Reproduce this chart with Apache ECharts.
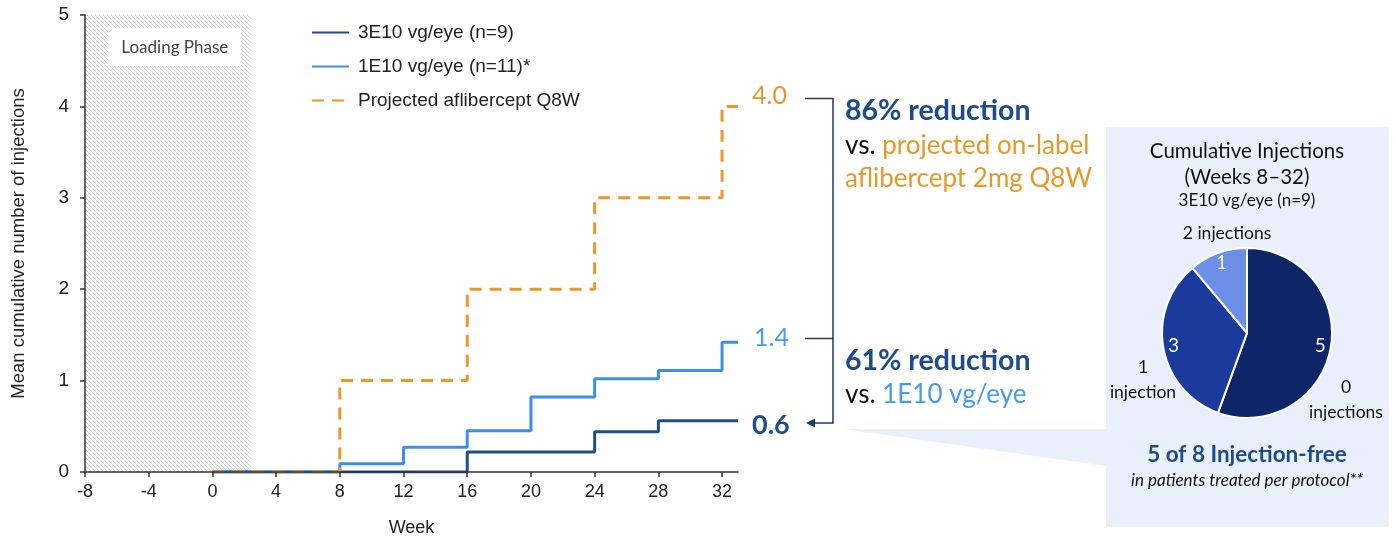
<!DOCTYPE html>
<html>
<head>
<meta charset="utf-8">
<script src="https://cdn.jsdelivr.net/npm/echarts@6/dist/echarts.min.js"></script>
<style>
  html, body { margin: 0; padding: 0; background: #fff; }
  #chart { width: 1396px; height: 540px; }
</style>
</head>
<body>
<div id="chart"></div>
<script>
// Cumulative injections by week (step data: value holds until the next week listed)
const weeks3E10 = [0, 16, 24, 28, 33];
const values3E10 = [0, 0.22, 0.44, 0.56, 0.56];
const weeks1E10 = [0, 8, 12, 16, 20, 24, 28, 32, 33];
const values1E10 = [0, 0.09, 0.27, 0.45, 0.82, 1.02, 1.11, 1.42, 1.42];
const weeksQ8W = [0, 8, 16, 24, 32, 33];
const valuesQ8W = [0, 1, 2, 3, 4, 4];

const seriesNames = ['3E10 vg/eye (n=9)', '1E10 vg/eye (n=11)*', 'Projected aflibercept Q8W'];
const xTicks = [-8, -4, 0, 4, 8, 12, 16, 20, 24, 28, 32];
const loadingPhase = [-8, 2.4];

// Injection distribution, 3E10 vg/eye, weeks 8-32
const pieLabels = ['0\ninjections', '1\ninjection', '2 injections'];
const pieCounts = [5, 3, 1];

const C_DARK = '#1F4E8C';
const C_LIGHT = '#3C8FE6';
const C_ORANGE = '#E8992A';
const GILL = "Lato, 'Open Sans', sans-serif";
const ARIAL = "'Liberation Sans', Arial, sans-serif";
const NARROW = "'Liberation Sans Narrow', 'Liberation Sans', Arial, sans-serif";

function zip(xs, ys) { return xs.map((x, i) => [x, ys[i]]); }

// Diagonal hatch for the loading phase
const hatch = document.createElement('canvas');
hatch.width = 4; hatch.height = 4;
(function () {
  const g = hatch.getContext('2d');
  g.fillStyle = '#fafafa';
  g.fillRect(0, 0, 4, 4);
  g.strokeStyle = '#d2d2d2';
  g.lineWidth = 1;
  g.beginPath();
  g.moveTo(-1, -1); g.lineTo(5, 5);
  g.stroke();
})();

const chart = echarts.init(document.getElementById('chart'));

const endLabelBase = { show: true, fontFamily: GILL, distance: 14, formatter: p => p.value[1].toFixed(1) };

chart.setOption({
  animation: false,
  backgroundColor: '#fff',
  grid: { left: 85, right: 658, top: 15, bottom: 68, outerBoundsMode: 'none', containLabel: false },
  legend: {
    data: seriesNames,
    orient: 'vertical',
    left: 306,
    top: 17,
    itemWidth: 37,
    itemHeight: 14,
    itemGap: 13,
    itemStyle: { opacity: 0 },
    textStyle: { fontFamily: ARIAL, fontSize: 19, color: '#222', padding: [0, 0, 0, 4], lineHeight: 21 }
  },
  xAxis: {
    type: 'value', min: -8, max: 33, interval: 4, z: 10,
    name: 'Week', nameLocation: 'middle', nameGap: 47,
    nameTextStyle: { fontFamily: NARROW, fontSize: 18, color: '#222' },
    axisLine: { onZero: false, lineStyle: { color: '#333', width: 1.5 } },
    axisTick: { show: true, length: 5, customValues: xTicks, lineStyle: { color: '#333', width: 1.5 } },
    axisLabel: { customValues: xTicks, margin: 11, fontFamily: NARROW, fontSize: 18, color: '#222' },
    splitLine: { show: false }
  },
  yAxis: {
    type: 'value', min: 0, max: 5, interval: 1, z: 10,
    name: 'Mean cumulative number of injections', nameLocation: 'middle', nameGap: 57,
    nameTextStyle: { fontFamily: ARIAL, fontSize: 18.5, color: '#222' },
    axisLine: { show: true, onZero: false, lineStyle: { color: '#333', width: 1.5 } },
    axisTick: { show: true, length: 5, lineStyle: { color: '#333', width: 1.5 } },
    axisLabel: { margin: 16, fontFamily: NARROW, fontSize: 19, color: '#222' },
    splitLine: { show: false }
  },
  series: [
    // loading phase band (area only, no line data)
    {
      type: 'line', data: [], silent: true, z: 1,
      markArea: {
        silent: true,
        itemStyle: { color: { image: hatch, repeat: 'repeat' } },
        label: {
          show: true, position: 'insideTop', distance: 13, offset: [7, 0],
          color: '#444', fontFamily: GILL, fontSize: 17,
          backgroundColor: '#fff', padding: [11, 13, 10, 13]
        },
        data: [[{ name: 'Loading Phase', xAxis: loadingPhase[0] }, { xAxis: loadingPhase[1] }]]
      }
    },
    {
      name: seriesNames[0], type: 'line', step: 'end', symbol: 'none',
      data: zip(weeks3E10, values3E10),
      lineStyle: { color: C_DARK, width: 3 }, itemStyle: { color: C_DARK },
      endLabel: Object.assign({}, endLabelBase, { color: C_DARK, fontSize: 27, fontWeight: 'bold', offset: [0, 4] }),
      z: 2
    },
    {
      name: seriesNames[1], type: 'line', step: 'end', symbol: 'none',
      data: zip(weeks1E10, values1E10),
      lineStyle: { color: C_LIGHT, width: 3 }, itemStyle: { color: C_LIGHT },
      endLabel: Object.assign({}, endLabelBase, { color: '#4A9BE8', fontSize: 25, offset: [2, -4] }),
      z: 3
    },
    {
      name: seriesNames[2], type: 'line', step: 'end', symbol: 'none',
      data: zip(weeksQ8W, valuesQ8W),
      lineStyle: { color: C_ORANGE, width: 3, type: [12, 8] }, itemStyle: { color: C_ORANGE },
      endLabel: Object.assign({}, endLabelBase, { color: '#E39A2C', fontSize: 25, offset: [0, -10] }),
      z: 4
    },
    // Pie: slice fills and category names
    {
      type: 'pie', center: [1247, 333], radius: 85, startAngle: 90, clockwise: true,
      silent: true, z: 5, avoidLabelOverlap: false,
      data: pieCounts.map((v, i) => ({ value: v, name: pieLabels[i] })),
      itemStyle: { borderColor: '#fff', borderWidth: 2 },
      color: ['#0E2568', '#1B3B9C', '#6C8FE8'],
      label: { show: true, position: 'outside', formatter: '{b}', fontFamily: GILL, fontSize: 17.5, color: '#111', lineHeight: 25, align: 'center' },
      labelLine: { show: false },
      labelLayout: function (p) {
        const spots = [[1346, 400], [1143, 380], [1227, 233]];
        const s = spots[p.dataIndex];
        return { x: s[0], y: s[1], align: 'center', verticalAlign: 'middle', hideOverlap: false, moveOverlap: null };
      }
    },
    // Pie: counts placed near the rim
    {
      type: 'pie', center: [1247, 333], radius: [58, 85], startAngle: 90, clockwise: true,
      silent: true, z: 6, avoidLabelOverlap: false,
      data: pieCounts.map((v, i) => ({ value: v, name: pieLabels[i] })),
      itemStyle: { color: 'rgba(0,0,0,0)', borderWidth: 0 },
      label: { show: true, position: 'inside', formatter: '{c}', color: '#fff', fontFamily: GILL, fontSize: 19 },
      labelLine: { show: false }
    }
  ],
  graphic: [
    // side panel and its pointer wedge
    { type: 'rect', z: -10, shape: { x: 1106, y: 127, width: 283, height: 400 }, style: { fill: '#E9F0FB' } },
    { type: 'polygon', z: -10, shape: { points: [[843, 429], [1106, 429], [1106, 466]] }, style: { fill: '#E9F0FB' } },
    // bracket linking end values
    { type: 'polyline', z: 10, shape: { points: [[805, 98.5], [833, 98.5], [833, 423], [812, 423]] }, style: { stroke: '#1F3A5F', lineWidth: 1.5, fill: null } },
    { type: 'line', z: 10, shape: { x1: 805, y1: 338.5, x2: 833, y2: 338.5 }, style: { stroke: '#1F3A5F', lineWidth: 1.5 } },
    { type: 'polygon', z: 10, shape: { points: [[806, 423], [815, 418.5], [815, 427.5]] }, style: { fill: '#1F3A5F' } },
    // reduction call-outs
    { type: 'text', z: 10, x: 845, y: 111, style: { text: '86% reduction', fill: '#1E4C8A', font: "bold 28.5px " + GILL, verticalAlign: 'middle' } },
    { type: 'text', z: 10, x: 845, y: 146, style: {
      text: '{k|vs. }{o|projected on-label}', verticalAlign: 'middle',
      rich: { k: { fill: '#111', font: "26px " + GILL }, o: { fill: '#E39A2C', font: "26px " + GILL } } } },
    { type: 'text', z: 10, x: 845, y: 179, style: { text: 'aflibercept 2mg Q8W', fill: '#E39A2C', font: "26px " + GILL, verticalAlign: 'middle' } },
    { type: 'text', z: 10, x: 845, y: 361, style: { text: '61% reduction', fill: '#1E4C8A', font: "bold 28.5px " + GILL, verticalAlign: 'middle' } },
    { type: 'text', z: 10, x: 845, y: 395, style: {
      text: '{k|vs. }{b|1E10 vg/eye}', verticalAlign: 'middle',
      rich: { k: { fill: '#111', font: "26px " + GILL }, b: { fill: '#4A9BE8', font: "26px " + GILL } } } },
    // panel texts
    { type: 'text', z: 10, x: 1247, y: 151, style: { text: 'Cumulative Injections', fill: '#111', font: "20.5px " + GILL, align: 'center', verticalAlign: 'middle' } },
    { type: 'text', z: 10, x: 1247, y: 177, style: { text: '(Weeks 8–32)', fill: '#111', font: "20.5px " + GILL, align: 'center', verticalAlign: 'middle' } },
    { type: 'text', z: 10, x: 1247, y: 201, style: { text: '3E10 vg/eye (n=9)', fill: '#111', font: "17px " + GILL, align: 'center', verticalAlign: 'middle' } },
    { type: 'text', z: 10, x: 1247, y: 455, style: { text: '5 of 8 Injection-free', fill: '#1E4C8A', font: "bold 22.5px " + GILL, align: 'center', verticalAlign: 'middle' } },
    { type: 'text', z: 10, x: 1247, y: 481, style: { text: 'in patients treated per protocol**', fill: '#111', font: "italic 17px " + GILL, align: 'center', verticalAlign: 'middle' } }
  ]
});
</script>
</body>
</html>
